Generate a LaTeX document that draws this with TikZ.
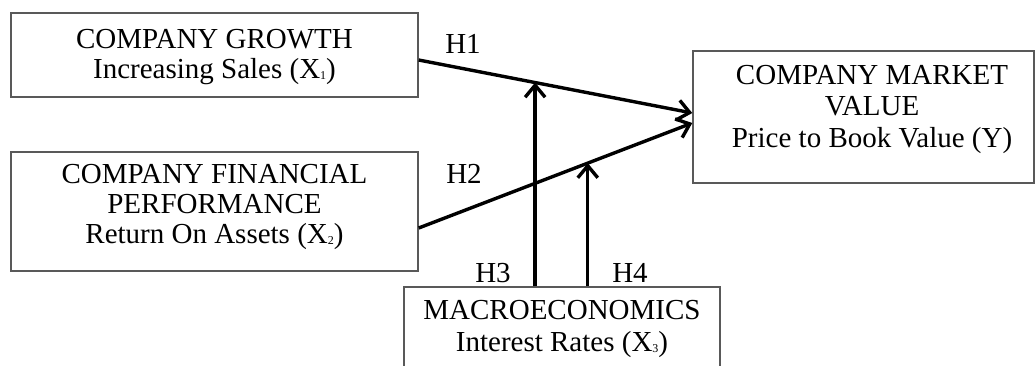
\documentclass[tikz,border=0pt]{standalone}
\usepackage{fontspec}
\setmainfont{Liberation Serif}
\usetikzlibrary{arrows.meta,calc}
\tikzset{
  boxnode/.style={draw=black!65,line width=1.4pt,rectangle,inner sep=0pt},
  txt/.style={font=\fontsize{29}{30}\selectfont,align=center,inner sep=0pt},
  lbl/.style={font=\fontsize{29}{30}\selectfont,inner sep=0pt},
  conn/.style={line width=3.4pt,-{Straight Barb[length=12pt,width=20pt,line width=3.4pt]}}
}
\newcommand{\subx}[1]{\raisebox{-0.05em}{\fontsize{12}{12}\selectfont #1}}
\begin{document}
\begin{tikzpicture}[x=1pt,y=-1pt]
\useasboundingbox (0,0) rectangle (1035,365);
% boxes
\node[boxnode,minimum width=407,minimum height=84] (b1) at (214.5,55) {};
\node[txt] (t1) at (214.5,57) {COMPANY GROWTH\\Increasing Sales (X\subx{1})};
\node[boxnode,minimum width=407,minimum height=119] (b2) at (214.5,211.5) {};
\node[txt] (t2) at (214.5,207) {COMPANY FINANCIAL\\PERFORMANCE\\Return On Assets (X\subx{2})};
\node[boxnode,minimum width=341,minimum height=132] (Y) at (863.5,117) {};
\node[txt,font=\fontsize{29}{31.5}\selectfont] (ty) at (872,109) {COMPANY MARKET\\VALUE\\Price to Book Value (Y)};
\node[boxnode,minimum width=316,minimum height=110] (M) at (562,342) {};
\node[txt,font=\fontsize{29}{32}\selectfont] (tm) at (562,329) {MACROECONOMICS\\Interest Rates (X\subx{3})};
% connectors
\coordinate (s1) at ([yshift=-5]b1.east);
\coordinate (e1) at ([yshift=4]Y.west);
\coordinate (s2) at ([yshift=-16.5]b2.east);
\coordinate (e2) at ([yshift=-6]Y.west);
\draw[conn] (s1) -- (e1);
\draw[conn] (s2) -- (e2);
\coordinate (m1) at ($(s1)!0.4255!(e1)$);
\coordinate (m2) at ($(s2)!0.618!(e2)$);
\draw[conn] (m1 |- M.north) -- (m1);
\draw[conn] (m2 |- M.north) -- (m2);
% labels
\node[lbl] (h1) at (463,44) {H1};
\node[lbl] (h2) at (464,174) {H2};
\node[lbl] (h3) at (493,273) {H3};
\node[lbl] (h4) at (630,273) {H4};
\end{tikzpicture}
\end{document}
